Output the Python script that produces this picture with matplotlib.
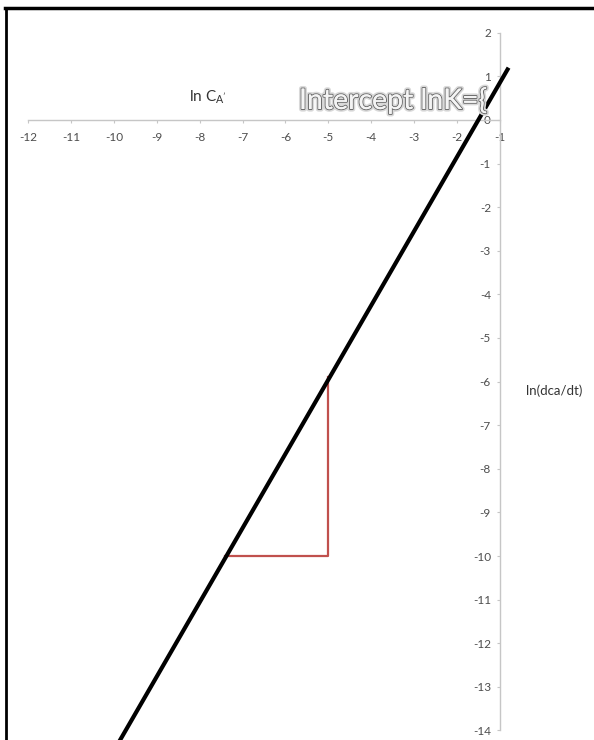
import matplotlib
matplotlib.use('Agg')
import matplotlib.pyplot as plt
import matplotlib.patheffects as pe
from matplotlib.lines import Line2D

# axis ticks
X_TICKS = list(range(-12, 0))
Y_TICKS = list(range(-14, 3))

# fitted straight line (ln rate vs ln C)
LINE_X = [-10.0, -0.8]
LINE_Y = [-14.47, 1.2]

# slope triangle
TRI_X = [-7.4, -5.0, -5.0]
TRI_Y = [-10.0, -10.0, -5.9]

AXIS_GREY = '#c6c6c6'
LABEL_GREY = '#4d4d4d'

plt.rcParams['font.family'] = ['Lato', 'DejaVu Sans']
plt.rcParams['axes.unicode_minus'] = False

fig = plt.figure(figsize=(5.94, 7.40), dpi=100)
ax = fig.add_axes([0, 0, 1, 1])
ax.set_xlim(-12.653, 1.191)
ax.set_ylim(-14.22, 2.752)
ax.patch.set_alpha(0)

for s in ['top', 'right']:
    ax.spines[s].set_visible(False)
ax.spines['left'].set_position(('data', -1))
ax.spines['bottom'].set_position(('data', 0))
ax.spines['left'].set_bounds(-14, 2)
ax.spines['bottom'].set_bounds(-12, -1)
for s in ['left', 'bottom']:
    ax.spines[s].set_color(AXIS_GREY)
    ax.spines[s].set_linewidth(1.0)

ax.set_xticks(X_TICKS)
ax.set_yticks(Y_TICKS)
ax.tick_params(axis='x', direction='out', length=2.5, width=0.8, color=AXIS_GREY,
               labelcolor=LABEL_GREY, labelsize=8.5, pad=6.5)
ax.tick_params(axis='y', direction='out', length=2.5, width=0.8, color=AXIS_GREY,
               labelcolor=LABEL_GREY, labelsize=8.5, pad=4)

ax.plot(LINE_X, LINE_Y, color='black', lw=3.0, solid_capstyle='butt', zorder=4)
ax.plot(TRI_X, TRI_Y, color='#c0504d', lw=1.6, zorder=3)

# labels
fig.text(189 / 594, 1 - 97 / 740, "ln C$_\\mathregular{A'}$", fontsize=11,
         color='#333333', ha='left', va='center')
fig.text(554 / 594, 1 - 391 / 740, 'ln(dca/dt)', fontsize=9.5,
         color='#333333', ha='center', va='center')
t = fig.text(299 / 594, 1 - 100 / 740, 'Intercept lnK={', fontsize=20.5,
             color='#f4f4f4', ha='left', va='center', zorder=5)
t.set_path_effects([pe.withStroke(linewidth=3.8, foreground='#d9d9d9'),
                    pe.withStroke(linewidth=1.5, foreground='#6e6e6e'),
                    pe.Normal()])

# screenshot frame (left and top edges)
fig.add_artist(Line2D([6 / 594, 6 / 594], [0, 1 - 8 / 740], color='black', lw=2.0,
                      transform=fig.transFigure))
fig.add_artist(Line2D([5 / 594, 1], [1 - 8 / 740, 1 - 8 / 740], color='black', lw=2.5,
                      transform=fig.transFigure))

fig.savefig('out.png', dpi=100)
